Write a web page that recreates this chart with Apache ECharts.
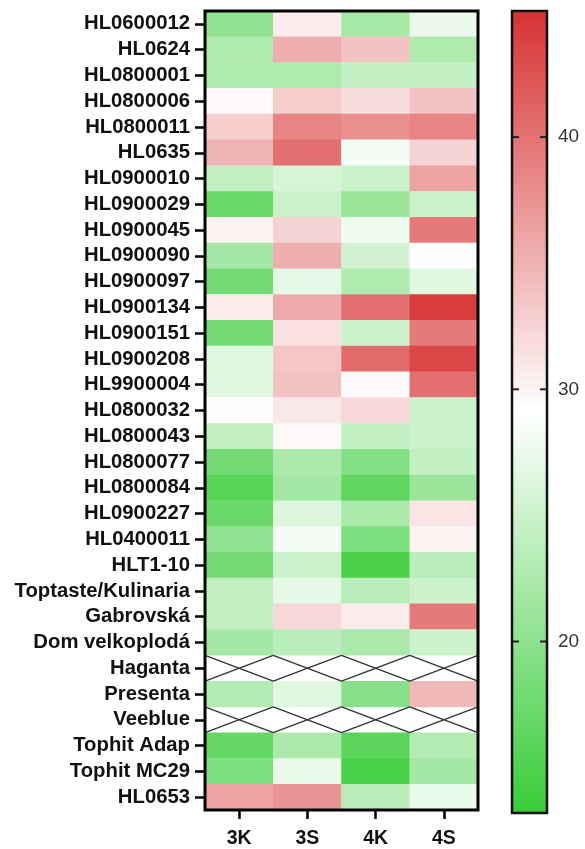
<!DOCTYPE html>
<html>
<head>
<meta charset="utf-8">
<script src="https://cdn.jsdelivr.net/npm/echarts@6/dist/echarts.min.js"></script>
<style>
  html, body { margin: 0; padding: 0; background: #fff; }
  #chart { width: 585px; height: 849px; }
</style>
</head>
<body>
<div id="chart"></div>
<script>
// Lines (rows) and treatments (columns)
const rows = ['HL0600012','HL0624','HL0800001','HL0800006','HL0800011','HL0635','HL0900010','HL0900029','HL0900045','HL0900090','HL0900097','HL0900134','HL0900151','HL0900208','HL9900004','HL0800032','HL0800043','HL0800077','HL0800084','HL0900227','HL0400011','HLT1-10','Toptaste/Kulinaria','Gabrovská','Dom velkoplodá','Haganta','Presenta','Veeblue','Tophit Adap','Tophit MC29','HL0653'];
const cols = ['3K', '3S', '4K', '4S'];

// Values per treatment, one entry per row (null = no measurement)
const v3K = [20.3,22.7,22.7,29.5,33.0,35.0,24.3,17.2,30.0,21.9,18.0,30.6,18.0,26.6,26.6,29.3,24.3,18.0,15.6,17.2,20.3,18.0,24.3,24.3,21.9,null,23.0,null,16.7,18.7,36.2];
const v3S = [30.5,35.4,22.7,33.0,38.6,40.2,25.8,25.0,32.5,35.4,27.0,35.7,31.4,33.5,33.8,31.0,29.6,22.4,21.9,26.2,28.3,25.0,27.1,32.2,23.5,null,26.6,null,22.4,27.4,37.3];
const v4K = [22.0,33.8,24.3,31.7,37.8,28.3,25.0,21.0,27.8,25.5,22.7,40.2,25.0,40.5,29.5,32.2,24.3,19.2,16.4,22.4,18.7,14.8,23.5,30.6,22.4,null,19.5,null,16.0,14.5,23.5];
const v4S = [27.5,22.7,24.3,33.8,38.6,32.5,36.2,25.0,39.4,29.2,26.6,44.2,39.4,43.4,40.2,25.0,25.0,24.3,21.1,31.1,30.0,23.5,25.0,39.4,25.0,null,34.6,null,23.0,21.9,27.4];

// Colour scale range and tick labels
const scaleMin = 13.2;
const scaleMax = 45;
const scaleTicks = [20, 30, 40];
const scaleColors = ['#38cc38', '#ffffff', '#d73232'];

const columns = [v3K, v3S, v4K, v4S];
const cellData = [];
const missingData = [];
columns.forEach((vals, ci) => {
  vals.forEach((v, ri) => {
    if (v === null) missingData.push([ci, ri]);
    else cellData.push([ci, ri, v]);
  });
});

const FONT = '"Liberation Sans", Arial, sans-serif';
const chart = echarts.init(document.getElementById('chart'), null, { renderer: 'canvas' });

chart.setOption({
  backgroundColor: '#fff',
  animation: false,
  grid: [
    { left: 205, top: 11, width: 273, height: 802, show: true, borderColor: '#000', borderWidth: 3, backgroundColor: 'transparent', z: 10 },
    { left: 512, top: 11, width: 35, height: 802, show: true, borderColor: '#111', borderWidth: 2.5, backgroundColor: 'transparent', z: 10 }
  ],
  xAxis: [
    {
      type: 'category', gridIndex: 0, data: cols, position: 'bottom',
      axisLine: { show: false },
      axisTick: { show: true, alignWithLabel: true, length: 9, lineStyle: { color: '#000', width: 2.5 } },
      axisLabel: { margin: 19, color: '#111', fontFamily: FONT, fontWeight: 'bold', fontSize: 19.5 },
      splitLine: { show: false }
    },
    { type: 'value', gridIndex: 1, min: 0, max: 1, show: false }
  ],
  yAxis: [
    {
      type: 'category', gridIndex: 0, data: rows, inverse: true,
      axisLine: { show: false },
      axisTick: { show: true, alignWithLabel: true, length: 10, lineStyle: { color: '#000', width: 2.5 } },
      axisLabel: { margin: 15, color: '#111', fontFamily: FONT, fontWeight: 'bold', fontSize: 20.3, interval: 0 },
      splitLine: { show: false }
    },
    {
      type: 'value', gridIndex: 1, position: 'right', min: scaleMin, max: scaleMax,
      axisLine: { show: false },
      axisTick: { show: false },
      axisLabel: { margin: 11, customValues: scaleTicks, color: '#333', fontFamily: FONT, fontSize: 19 },
      splitLine: { show: false }
    }
  ],
  visualMap: {
    show: false, type: 'continuous', seriesIndex: 0,
    min: scaleMin, max: scaleMax, inRange: { color: scaleColors }
  },
  series: [
    {
      type: 'heatmap', xAxisIndex: 0, yAxisIndex: 0, data: cellData,
      itemStyle: { borderWidth: 0 }, emphasis: { disabled: true }
    },
    {
      // crossed cells for lines without data
      type: 'custom', xAxisIndex: 0, yAxisIndex: 0, data: missingData, z: 3,
      renderItem: function (params, api) {
        const c = api.coord([api.value(0), api.value(1)]);
        const s = api.size([1, 1]);
        const x0 = c[0] - s[0] / 2, x1 = c[0] + s[0] / 2;
        const y0 = c[1] - s[1] / 2, y1 = c[1] + s[1] / 2;
        const style = { stroke: '#333', lineWidth: 1.3 };
        return {
          type: 'group',
          children: [
            { type: 'line', shape: { x1: x0, y1: y0, x2: x1, y2: y1 }, style: style },
            { type: 'line', shape: { x1: x0, y1: y1, x2: x1, y2: y0 }, style: style }
          ]
        };
      }
    },
    {
      // colour scale bar
      type: 'custom', xAxisIndex: 1, yAxisIndex: 1, data: [[0, 1, scaleMin, scaleMax]], z: 1,
      renderItem: function (params, api) {
        const p0 = api.coord([api.value(0), api.value(2)]);
        const p1 = api.coord([api.value(1), api.value(3)]);
        return {
          type: 'rect',
          shape: { x: p0[0], y: p1[1], width: p1[0] - p0[0], height: p0[1] - p1[1] },
          style: {
            fill: new echarts.graphic.LinearGradient(0, 1, 0, 0, [
              { offset: 0, color: scaleColors[0] },
              { offset: 0.5, color: scaleColors[1] },
              { offset: 1, color: scaleColors[2] }
            ])
          }
        };
      }
    },
    {
      // inner tick marks on both edges of the scale bar
      type: 'custom', xAxisIndex: 1, yAxisIndex: 1, data: scaleTicks.map(v => [v]), z: 5,
      renderItem: function (params, api) {
        const l = api.coord([0, api.value(0)]);
        const r = api.coord([1, api.value(0)]);
        const style = { stroke: '#222', lineWidth: 2 };
        return {
          type: 'group',
          children: [
            { type: 'line', shape: { x1: l[0], y1: l[1], x2: l[0] + 7, y2: l[1] }, style: style },
            { type: 'line', shape: { x1: r[0] - 7, y1: r[1], x2: r[0], y2: r[1] }, style: style }
          ]
        };
      }
    }
  ]
});
</script>
</body>
</html>
